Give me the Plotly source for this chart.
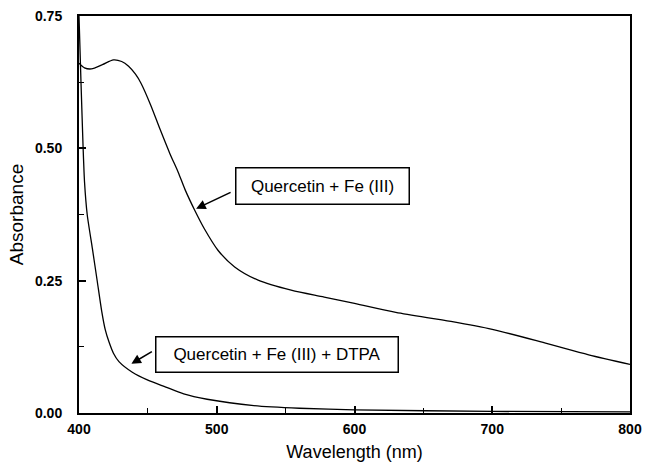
import plotly.graph_objects as go

# Quercetin + Fe(III)
wl_fe = [400, 404, 409, 417, 425, 431, 436, 441, 445, 452, 459, 466, 472, 477, 484,
         491, 501, 513, 530, 554, 578, 600, 630, 670, 700, 740, 770, 800]
abs_fe = [0.661, 0.652, 0.650, 0.658, 0.667, 0.664, 0.655, 0.640, 0.623, 0.582, 0.535,
          0.49, 0.455, 0.422, 0.383, 0.348, 0.307, 0.276, 0.251, 0.232, 0.219, 0.207,
          0.190, 0.173, 0.158, 0.131, 0.110, 0.092]

# Quercetin + Fe(III) + DTPA
wl_dtpa = [400, 401.5, 403, 404, 406, 409.7, 413.3, 416.5, 419, 421.8, 425, 429, 438.7,
           450, 463, 476, 493, 527, 560, 600, 700, 800]
abs_dtpa = [0.75, 0.62, 0.50, 0.437, 0.374, 0.311, 0.248, 0.192, 0.158, 0.134, 0.113,
            0.097, 0.077, 0.062, 0.049, 0.036, 0.026, 0.014, 0.009, 0.006, 0.003, 0.002]

x_ticks = [400, 500, 600, 700, 800]
y_ticks = [0.0, 0.25, 0.5, 0.75]

label_fe = "Quercetin + Fe (III)"
label_dtpa = "Quercetin + Fe (III) + DTPA"

FONT = "Liberation Sans, Arial, sans-serif"

fig = go.Figure()
fig.add_trace(go.Scatter(x=wl_fe, y=abs_fe, mode="lines",
                         line=dict(color="black", width=1.3, shape="spline", smoothing=0.8),
                         showlegend=False))
fig.add_trace(go.Scatter(x=wl_dtpa, y=abs_dtpa, mode="lines",
                         line=dict(color="black", width=1.3, shape="spline", smoothing=0.6),
                         showlegend=False))

# arrows (pointing to curves)
fig.add_annotation(x=485, y=0.386, ax=36, ay=-17, text="", showarrow=True,
                   arrowhead=2, arrowsize=1.2, arrowwidth=1.6, arrowcolor="black")
fig.add_annotation(x=438, y=0.093, ax=22, ay=-13, text="", showarrow=True,
                   arrowhead=2, arrowsize=1.2, arrowwidth=1.6, arrowcolor="black")
# label boxes
fig.add_annotation(x=577, y=0.429, text=label_fe, showarrow=False,
                   font=dict(family=FONT, size=17, color="black"),
                   bordercolor="black", borderwidth=1.5, borderpad=0,
                   width=172, height=35, bgcolor="white")
fig.add_annotation(x=544, y=0.110, text=label_dtpa, showarrow=False,
                   font=dict(family=FONT, size=17, color="black"),
                   bordercolor="black", borderwidth=1.5, borderpad=0,
                   width=241, height=34, bgcolor="white")

fig.update_layout(
    width=648, height=472,
    margin=dict(l=79, r=18, t=16, b=59),
    paper_bgcolor="white", plot_bgcolor="white",
    font=dict(family=FONT, color="black"),
    xaxis=dict(
        range=[400, 800], tickvals=x_ticks, ticktext=[str(v) for v in x_ticks],
        automargin=False,
        showline=True, mirror=True, linecolor="black", linewidth=2,
        ticks="inside", ticklen=7, tickwidth=1.5, tickcolor="black",
        minor=dict(ticks="inside", dtick=50, ticklen=5, tickwidth=1.2, tickcolor="black"),
        showgrid=False, zeroline=False, ticklabelstandoff=2,
        tickfont=dict(family=FONT, size=14, color="black", weight="bold"),
        title=dict(text="Wavelength (nm)", font=dict(family=FONT, size=18), standoff=10),
    ),
    yaxis=dict(
        range=[0, 0.75], tickvals=y_ticks, tickformat=".2f",
        automargin=False,
        showline=True, mirror=True, linecolor="black", linewidth=2,
        ticks="inside", ticklen=7, tickwidth=1.5, tickcolor="black",
        minor=dict(ticks="inside", dtick=0.125, ticklen=5, tickwidth=1.2, tickcolor="black"),
        showgrid=False, zeroline=False, ticklabelstandoff=12,
        tickfont=dict(family=FONT, size=14, color="black", weight="bold"),
        title=dict(text="Absorbance", font=dict(family=FONT, size=19), standoff=6),
    ),
)

fig.write_html("out.html", config={"displayModeBar": False},
               post_script="document.body.style.margin='0';document.body.style.overflow='hidden';")
